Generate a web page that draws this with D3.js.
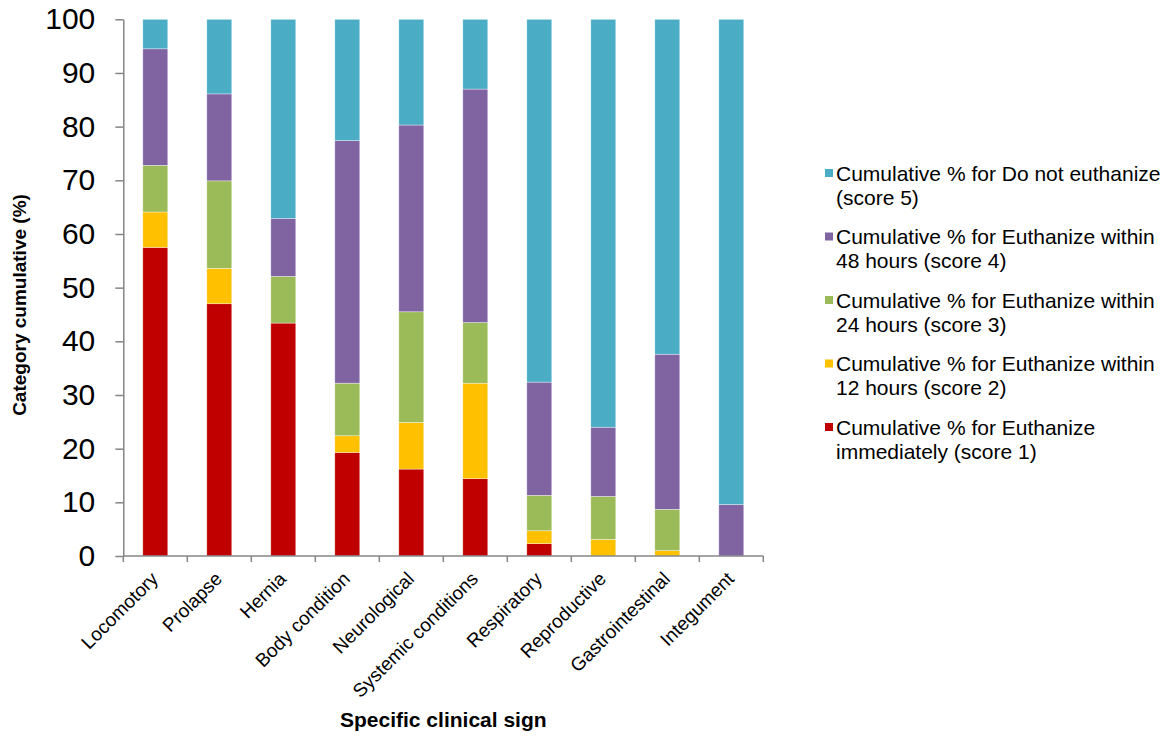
<!DOCTYPE html>
<html lang="en">
<head>
	<meta charset="UTF-8">
	<title>Specific clinical sign</title>
	<script src="https://d3js.org/d3.v7.min.js"></script>
	<style>
		body {margin: 0; background: #fff;}
		text {font-family: Arial, "Liberation Sans", sans-serif;}
	</style>
</head>
<body>
	<div id="myDiv"></div>
</body>
</html>

<script>

	// categories on the x axis
	let signs = ["Locomotory", "Prolapse", "Hernia", "Body condition", "Neurological",
		"Systemic conditions", "Respiratory", "Reproductive", "Gastrointestinal", "Integument"];

	// % of each score per sign (stacked from score 1 upwards)
	let score1 = [57.5, 47.0, 43.4, 19.3, 16.2, 14.4, 2.3, 0, 0, 0];
	let score2 = [6.6, 6.6, 0, 3.1, 8.7, 17.8, 2.4, 3.1, 1.0, 0];
	let score3 = [8.7, 16.3, 8.7, 9.8, 20.6, 11.3, 6.6, 8.0, 7.7, 0];
	let score4 = [21.7, 16.2, 10.8, 45.2, 34.8, 43.5, 21.1, 12.9, 28.9, 9.6];
	let score5 = [5.5, 13.9, 37.1, 22.6, 19.7, 13.0, 67.6, 76.0, 62.4, 90.4];

	let yTicks = [0, 10, 20, 30, 40, 50, 60, 70, 80, 90, 100];

	let seriesKeys = ["s1", "s2", "s3", "s4", "s5"];
	let seriesNames = [
		["Cumulative % for Euthanize", "immediately (score 1)"],
		["Cumulative % for Euthanize within", "12 hours (score 2)"],
		["Cumulative % for Euthanize within", "24 hours (score 3)"],
		["Cumulative % for Euthanize within", "48 hours (score 4)"],
		["Cumulative % for Do not euthanize", "(score 5)"]
	];
	let colors = ["#C00000", "#FFC000", "#9BBB59", "#8064A2", "#4BACC6"];

	// table for d3.stack
	let data = signs.map(function(s, i){
		return {sign: s, s1: score1[i], s2: score2[i], s3: score3[i], s4: score4[i], s5: score5[i]};
	});

	let width = 1174, height = 738;
	let plotLeft = 123.3, plotRight = 763.3, plotTop = 19.3, plotBottom = 556;

	let svg = d3.select("#myDiv").append("svg")
		.attr("width", width)
		.attr("height", height);

	let x = d3.scaleBand()
		.domain(signs)
		.range([plotLeft, plotRight])
		.paddingInner(0.61)
		.paddingOuter(0.305);

	// same categories, no padding -> boundaries for tick marks
	let xEdge = d3.scaleBand().domain(signs).range([plotLeft, plotRight]);

	let y = d3.scaleLinear()
		.domain([0, 100])
		.range([plotBottom, plotTop]);

	let stacked = d3.stack().keys(seriesKeys)(data);

	//Bars
	svg.append("g").selectAll("g")
		.data(stacked)
		.join("g")
			.attr("fill", function(d, i){ return colors[i]; })
		.selectAll("rect")
		.data(function(d){ return d; })
		.join("rect")
			.attr("x", function(d){ return x(d.data.sign); })
			.attr("y", function(d){ return y(d[1]); })
			.attr("width", x.bandwidth())
			.attr("height", function(d){ return y(d[0]) - y(d[1]); })
			.attr("stroke", "#fff")
			.attr("stroke-opacity", 0.6)
			.attr("stroke-width", function(d){ return d[1] - d[0] > 0 ? 0.6 : 0; });

	//Y axis
	let yAxis = svg.append("g")
		.attr("transform", "translate(" + plotLeft + ",0)")
		.call(d3.axisLeft(y).tickValues(yTicks).tickSize(8).tickPadding(20).tickSizeOuter(0));
	yAxis.select(".domain").attr("stroke", "#868686").attr("stroke-width", 1.5);
	yAxis.selectAll(".tick line").attr("stroke", "#868686").attr("stroke-width", 1.5);
	yAxis.selectAll(".tick text")
		.attr("font-size", "30px")
		.attr("fill", "#000")
		.attr("font-family", "Arial, 'Liberation Sans', sans-serif");

	//X axis line + boundary ticks
	let xAxis = svg.append("g")
		.attr("transform", "translate(0," + plotBottom + ")");
	xAxis.append("line")
		.attr("x1", plotLeft).attr("x2", plotRight)
		.attr("stroke", "#868686").attr("stroke-width", 1.5);
	xAxis.selectAll(".edge")
		.data(signs.map(function(s){ return xEdge(s); }).concat([plotRight]))
		.join("line")
			.attr("class", "edge")
			.attr("x1", function(d){ return d; })
			.attr("x2", function(d){ return d; })
			.attr("y1", 0).attr("y2", 6)
			.attr("stroke", "#868686").attr("stroke-width", 1.5);

	//X labels, rotated
	svg.append("g").selectAll("text")
		.data(signs)
		.join("text")
			.attr("transform", function(d){
				return "translate(" + (x(d) + x.bandwidth() / 2 + 4) + "," + (plotBottom + 24) + ") rotate(-45)";
			})
			.attr("text-anchor", "end")
			.attr("font-size", "19px")
			.attr("fill", "#000")
			.text(function(d){ return d; });

	//Axis titles
	svg.append("text")
		.attr("x", (plotLeft + plotRight) / 2)
		.attr("y", 727)
		.attr("text-anchor", "middle")
		.attr("font-size", "21px")
		.attr("font-weight", "bold")
		.text("Specific clinical sign");

	svg.append("text")
		.attr("transform", "translate(26,305) rotate(-90)")
		.attr("text-anchor", "middle")
		.attr("font-size", "19px")
		.attr("font-weight", "bold")
		.text("Category cumulative (%)");

	//Legend (score 5 on top)
	let legend = svg.append("g").selectAll("g")
		.data(d3.range(5).reverse())
		.join("g")
			.attr("transform", function(d, i){ return "translate(825," + (173 + i * 63.5) + ")"; });

	legend.append("rect")
		.attr("x", 0).attr("y", -4)
		.attr("width", 8).attr("height", 8)
		.attr("fill", function(d){ return colors[d]; });

	legend.append("text")
		.attr("x", 11)
		.attr("y", 7.5)
		.attr("font-size", "21px")
		.attr("fill", "#000")
		.text(function(d){ return seriesNames[d][0]; });

	legend.append("text")
		.attr("x", 11)
		.attr("y", 31.5)
		.attr("font-size", "21px")
		.attr("fill", "#000")
		.text(function(d){ return seriesNames[d][1]; });

</script>
